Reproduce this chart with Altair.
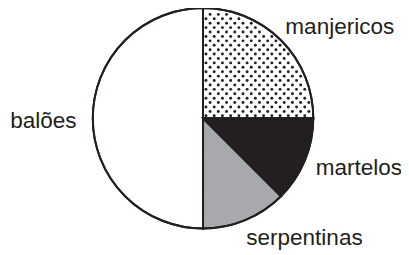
import altair as alt
import pandas as pd
import math

# ---- data ----
categories = ["manjericos", "martelos", "serpentinas", "balões"]
shares = [25, 12.5, 12.5, 50]
colors = ["#ffffff", "#231f20", "#a7a9ac", "#ffffff"]
order_idx = [0, 1, 2, 3]

df = pd.DataFrame({"cat": categories, "value": shares, "idx": order_idx})

W, H = 398, 220
R = 112.5

# ---- dotted texture for the "manjericos" quadrant ----
dots = []
for j in range(30):
    yy = 2.5 + j * 4.5
    off = 3.0 + (j % 2) * 4.2
    for k in range(20):
        xx = off + k * 8.4
        if math.hypot(xx, yy) < R - 3:
            dots.append({"dx": xx, "dy": yy})
dots_df = pd.DataFrame(dots)

base = alt.Chart(df)

pie = base.mark_arc(outerRadius=R, stroke="#231f20", strokeWidth=2).encode(
    theta=alt.Theta("value:Q", stack=True),
    order=alt.Order("idx:Q"),
    color=alt.Color("cat:N", scale=alt.Scale(domain=categories, range=colors), legend=None),
)

dot_layer = alt.Chart(dots_df).mark_circle(size=9, color="#231f20", opacity=1).encode(
    x=alt.X("dx:Q", scale=alt.Scale(domain=[-W / 2, W / 2], nice=False, zero=False), axis=None),
    y=alt.Y("dy:Q", scale=alt.Scale(domain=[-H / 2, H / 2], nice=False, zero=False), axis=None),
)

outline = base.mark_arc(outerRadius=R, stroke="#231f20", strokeWidth=2, fillOpacity=0).encode(
    theta=alt.Theta("value:Q", stack=True),
    order=alt.Order("idx:Q"),
)

label_style = [
    ("manjericos", "left", -4.4, 2.4),
    ("martelos", "left", -0.5, 10),
    ("serpentinas", "left", -3.8, 13.5),
    ("balões", "right", -4, 10),
]

labels = []
for name, al, ddx, ddy in label_style:
    labels.append(
        base.transform_calculate(lab=f"datum.cat == '{name}' ? datum.cat : ''")
        .mark_text(radius=125, align=al, baseline="alphabetic", dx=ddx, dy=ddy,
                   fontSize=23, font="Liberation Sans", color="#231f20")
        .encode(
            theta=alt.Theta("value:Q", stack=True),
            order=alt.Order("idx:Q"),
            text="lab:N",
        )
    )

chart = alt.layer(pie, dot_layer, outline, *labels).properties(
    width=W, height=H,
    autosize=alt.AutoSizeParams(type="none"),
    padding={"left": 0, "top": 0, "right": 3, "bottom": 27},
).configure_view(stroke=None)

chart.save("out.html", embed_options={"renderer": "svg", "actions": False})
